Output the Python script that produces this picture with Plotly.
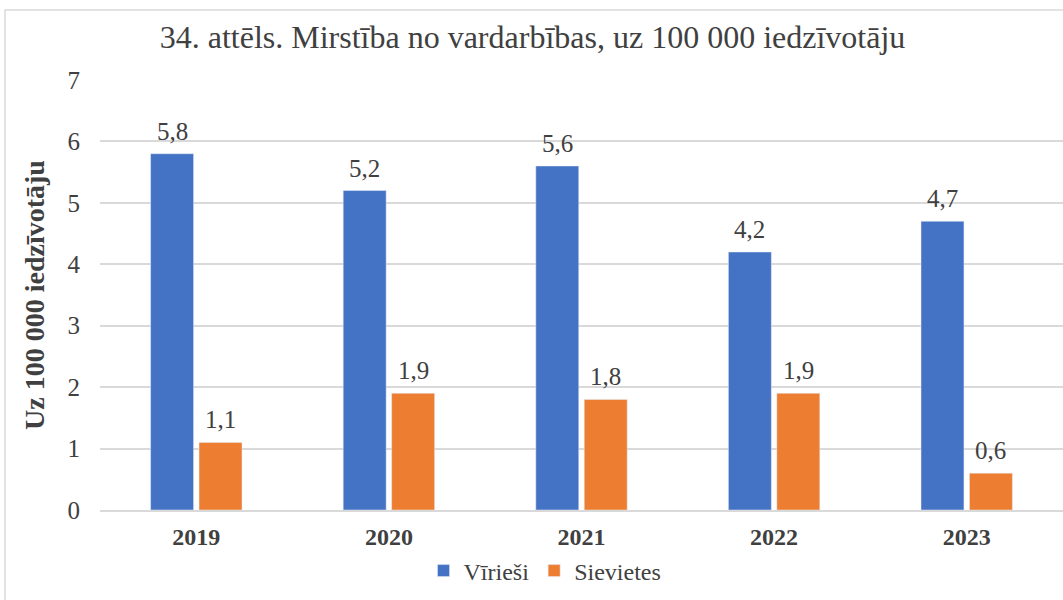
import plotly.graph_objects as go

years = ["2019", "2020", "2021", "2022", "2023"]
viriesi = [5.8, 5.2, 5.6, 4.2, 4.7]
sievietes = [1.1, 1.9, 1.8, 1.9, 0.6]

BLUE = "#4472C4"
ORANGE = "#ED7D31"
TEXT = "#404040"
GRID = "#d9d9d9"
SERIF = "Times New Roman, Liberation Serif, serif"

# plot area in pixels (1063 x 600 page)
L, R, T, B = 100, 0, 80, 90
W, H = 1063, 600
pw, ph = W - L - R, H - T - B

BARGAP, GROUPGAP = 0.497, 0.113


def px_x(x):
    return (x - L) / pw


def px_y(y):
    return (H - B - y) / ph


fig = go.Figure()
fig.add_trace(go.Bar(x=years, y=viriesi, name="Vīrieši", marker_color=BLUE))
fig.add_trace(go.Bar(x=years, y=sievietes, name="Sievietes", marker_color=ORANGE))

# value labels above each bar, shifted to the centre of its bar in the group
band = pw / len(years)
slot = band * (1 - BARGAP) / 2
for series, sign in ((viriesi, -1), (sievietes, 1)):
    for i, v in enumerate(series):
        fig.add_annotation(
            x=i, y=v, xref="x", yref="y", text=f"{v:.1f}".replace(".", ","),
            showarrow=False, xanchor="center", yanchor="bottom",
            xshift=sign * slot / 2, yshift=7,
            font=dict(family=SERIF, size=25, color=TEXT),
        )

fig.update_layout(
    width=W, height=H,
    margin=dict(l=L, r=R, t=T, b=B, pad=0),
    paper_bgcolor="white", plot_bgcolor="white",
    separators=", ",
    barmode="group", bargap=BARGAP, bargroupgap=GROUPGAP,
    title=dict(
        text="34. attēls. Mirstība no vardarbības, uz 100 000 iedzīvotāju",
        font=dict(family=SERIF, size=32, color=TEXT),
        x=(160 + 905) / 2 / W, xanchor="center", y=1 - 37 / H, yanchor="middle",
    ),
    font=dict(family=SERIF, color=TEXT),
    legend=dict(
        orientation="h", x=px_x(545), xanchor="center", y=px_y(571), yanchor="middle",
        font=dict(family=SERIF, size=24, color=TEXT),
        bgcolor="rgba(0,0,0,0)", itemwidth=30, traceorder="normal",
    ),
    showlegend=True,
)
fig.update_xaxes(
    type="category", range=[-0.5, len(years) - 0.5],
    showgrid=False, showline=True, linecolor=GRID, linewidth=1.5,
    ticks="outside", ticklen=4, tickcolor="rgba(0,0,0,0)",
    tickfont=dict(family=SERIF, size=24, color=TEXT, weight="bold"),
)
fig.update_yaxes(
    range=[0, 7], dtick=1, showgrid=True, gridcolor=GRID, gridwidth=1.5,
    zeroline=False, showline=False,
    ticks="outside", ticklen=14, tickcolor="rgba(0,0,0,0)",
    tickfont=dict(family=SERIF, size=25, color=TEXT),
    title=dict(text="Uz 100 000 iedzīvotāju", standoff=14,
               font=dict(family=SERIF, size=28, color=TEXT, weight="bold")),
)

# outer chart frame
fig.add_shape(
    type="rect", xref="paper", yref="paper", layer="below",
    x0=px_x(5), x1=px_x(1075), y0=px_y(615), y1=px_y(10),
    line=dict(color=GRID, width=1.5), fillcolor="rgba(0,0,0,0)",
)

fig.write_html("out.html")
